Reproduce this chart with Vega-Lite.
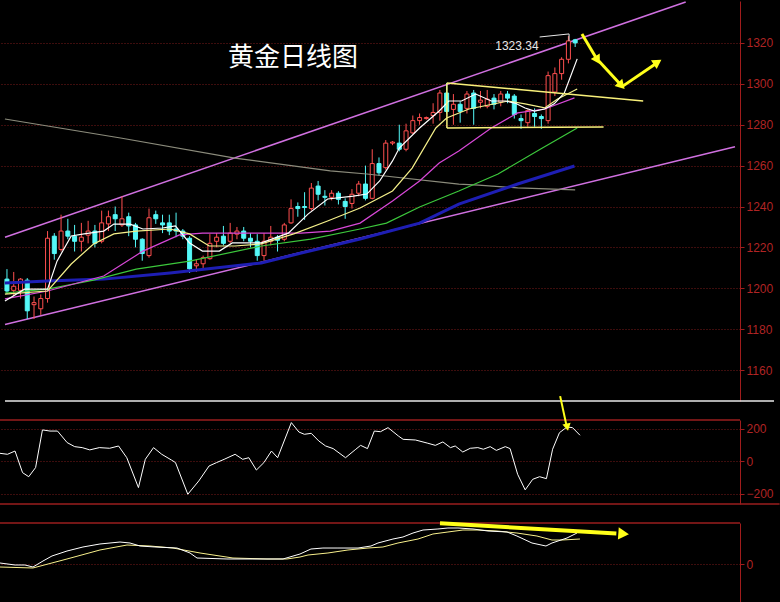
{
  "$schema": "https://vega.github.io/schema/vega-lite/v6.json",
  "background": "#000000",
  "padding": {"left": -5, "top": -10, "right": 0, "bottom": 0},
  "spacing": 19,
  "bounds": "flush",
  "resolve": {"scale": {"color": "independent"}},
  "config": {"view": {"stroke": null}, "axis": {"labelFont": "Liberation Sans"}},
  "datasets": {
    "candles": [
      {"i":0,"o":1204.5,"h":1209.4,"l":1197.2,"c":1198.7},
      {"i":1,"o":1199,"h":1208,"l":1196,"c":1201},
      {"i":2,"o":1199,"h":1205,"l":1195,"c":1204.5},
      {"i":3,"o":1204,"h":1205,"l":1185,"c":1189},
      {"i":4,"o":1192,"h":1196,"l":1185,"c":1193},
      {"i":5,"o":1190,"h":1197,"l":1187,"c":1195},
      {"i":6,"o":1195,"h":1228,"l":1193,"c":1224.5},
      {"i":7,"o":1225.5,"h":1227,"l":1214,"c":1217},
      {"i":8,"o":1219,"h":1236,"l":1218,"c":1228},
      {"i":9,"o":1228,"h":1234,"l":1224,"c":1225.5},
      {"i":10,"o":1225.5,"h":1231,"l":1218,"c":1223},
      {"i":11,"o":1223,"h":1232,"l":1218,"c":1225},
      {"i":12,"o":1226,"h":1233,"l":1222,"c":1228},
      {"i":13,"o":1228,"h":1231,"l":1220,"c":1222},
      {"i":14,"o":1223,"h":1238,"l":1222,"c":1232},
      {"i":15,"o":1231.5,"h":1238,"l":1228,"c":1235},
      {"i":16,"o":1236,"h":1240,"l":1228,"c":1234},
      {"i":17,"o":1231,"h":1245,"l":1230,"c":1234},
      {"i":18,"o":1235,"h":1237,"l":1225.5,"c":1230.5},
      {"i":19,"o":1231,"h":1232,"l":1220,"c":1224},
      {"i":20,"o":1224,"h":1224.5,"l":1213.5,"c":1217},
      {"i":21,"o":1216,"h":1239,"l":1215,"c":1234.5},
      {"i":22,"o":1236,"h":1238,"l":1231.5,"c":1234},
      {"i":23,"o":1232,"h":1236,"l":1227,"c":1231},
      {"i":24,"o":1232,"h":1236,"l":1226,"c":1228},
      {"i":25,"o":1229,"h":1237,"l":1225,"c":1228},
      {"i":26,"o":1228,"h":1229,"l":1224,"c":1225.5},
      {"i":27,"o":1224.5,"h":1225.5,"l":1207.5,"c":1209.5},
      {"i":28,"o":1211,"h":1214,"l":1208,"c":1212},
      {"i":29,"o":1212,"h":1216,"l":1209.5,"c":1215},
      {"i":30,"o":1214.5,"h":1226.5,"l":1214,"c":1222},
      {"i":31,"o":1223,"h":1227,"l":1220,"c":1225},
      {"i":32,"o":1225.5,"h":1230.5,"l":1221,"c":1222},
      {"i":33,"o":1223,"h":1232,"l":1222,"c":1227},
      {"i":34,"o":1226.5,"h":1230,"l":1224,"c":1228},
      {"i":35,"o":1228,"h":1230,"l":1223,"c":1224.5},
      {"i":36,"o":1224.5,"h":1227,"l":1220,"c":1223},
      {"i":37,"o":1223,"h":1226.5,"l":1213.5,"c":1216},
      {"i":38,"o":1216,"h":1227,"l":1213.5,"c":1223},
      {"i":39,"o":1223,"h":1230.5,"l":1221,"c":1225},
      {"i":40,"o":1225,"h":1226,"l":1218,"c":1223.5},
      {"i":41,"o":1224,"h":1232,"l":1223,"c":1231},
      {"i":42,"o":1232,"h":1243.5,"l":1231.5,"c":1239},
      {"i":43,"o":1240,"h":1242,"l":1235,"c":1239},
      {"i":44,"o":1240,"h":1247,"l":1233.5,"c":1239.5},
      {"i":45,"o":1239,"h":1251.5,"l":1238,"c":1249},
      {"i":46,"o":1250,"h":1252.5,"l":1243,"c":1246},
      {"i":47,"o":1245,"h":1248,"l":1240.5,"c":1244.5},
      {"i":48,"o":1244.5,"h":1248,"l":1243,"c":1246.5},
      {"i":49,"o":1246.5,"h":1247.5,"l":1241,"c":1243.5},
      {"i":50,"o":1242.5,"h":1244,"l":1234,"c":1240},
      {"i":51,"o":1241.5,"h":1248.5,"l":1239,"c":1246},
      {"i":52,"o":1246.5,"h":1252.5,"l":1245,"c":1251},
      {"i":53,"o":1251,"h":1260,"l":1243,"c":1244},
      {"i":54,"o":1244,"h":1268,"l":1243.5,"c":1261},
      {"i":55,"o":1261,"h":1264,"l":1255,"c":1256.5},
      {"i":56,"o":1259,"h":1272.5,"l":1258,"c":1271},
      {"i":57,"o":1271,"h":1272,"l":1270,"c":1271.5},
      {"i":58,"o":1271,"h":1280,"l":1267,"c":1268},
      {"i":59,"o":1268,"h":1280.5,"l":1267,"c":1277},
      {"i":60,"o":1276,"h":1284.5,"l":1275.5,"c":1282},
      {"i":61,"o":1282,"h":1285.5,"l":1280,"c":1283.5},
      {"i":62,"o":1283,"h":1284,"l":1282.5,"c":1283.5},
      {"i":63,"o":1284.5,"h":1290.5,"l":1280.5,"c":1286},
      {"i":64,"o":1286,"h":1297,"l":1282,"c":1295.5},
      {"i":65,"o":1295.5,"h":1300.5,"l":1285.5,"c":1286.5},
      {"i":66,"o":1287.5,"h":1295,"l":1280,"c":1290},
      {"i":67,"o":1290,"h":1291.5,"l":1281,"c":1286.5},
      {"i":68,"o":1288,"h":1296.5,"l":1285.5,"c":1295},
      {"i":69,"o":1295.5,"h":1297,"l":1280,"c":1288},
      {"i":70,"o":1291,"h":1296.5,"l":1288,"c":1292},
      {"i":71,"o":1289,"h":1297,"l":1288,"c":1292.5},
      {"i":72,"o":1293,"h":1295,"l":1287.5,"c":1290},
      {"i":73,"o":1291,"h":1296.5,"l":1289,"c":1295},
      {"i":74,"o":1295,"h":1296.5,"l":1290.5,"c":1293},
      {"i":75,"o":1294,"h":1295,"l":1283,"c":1285},
      {"i":76,"o":1283,"h":1285,"l":1278,"c":1282},
      {"i":77,"o":1281,"h":1287.5,"l":1279,"c":1287},
      {"i":78,"o":1285.5,"h":1288,"l":1279,"c":1284},
      {"i":79,"o":1284,"h":1285,"l":1278,"c":1283},
      {"i":80,"o":1282,"h":1306,"l":1280.5,"c":1304},
      {"i":81,"o":1296,"h":1308,"l":1294,"c":1305},
      {"i":82,"o":1305,"h":1313,"l":1302,"c":1312},
      {"i":83,"o":1312,"h":1323.34,"l":1310,"c":1321},
      {"i":84,"o":1321.5,"h":1322,"l":1318,"c":1320}
    ],
    "ma": [
      {"s":"ma250","i":-0.3,"p":1282.8},{"s":"ma250","i":16.8,"p":1273.5},{"s":"ma250","i":33.7,"p":1263.7},{"s":"ma250","i":47.8,"p":1257.4},{"s":"ma250","i":53.2,"p":1255.9},{"s":"ma250","i":66.8,"p":1251.0},{"s":"ma250","i":69.7,"p":1250.5},{"s":"ma250","i":75.5,"p":1249.1},{"s":"ma250","i":84.0,"p":1248.1},
      {"s":"ma120","i":-0.3,"p":1202.6},{"s":"ma120","i":6.0,"p":1203.6},{"s":"ma120","i":14.3,"p":1204.5},{"s":"ma120","i":24.1,"p":1207.5},{"s":"ma120","i":37.6,"p":1212.4},{"s":"ma120","i":43.5,"p":1217.3},{"s":"ma120","i":52.2,"p":1224.1},{"s":"ma120","i":61.0,"p":1231.9},{"s":"ma120","i":66.8,"p":1241.2},{"s":"ma120","i":75.5,"p":1251.0},{"s":"ma120","i":83.9,"p":1259.8},
      {"s":"ma60","i":-0.3,"p":1197.7},{"s":"ma60","i":6.0,"p":1199.6},{"s":"ma60","i":12.8,"p":1204.0},{"s":"ma60","i":19.1,"p":1209.4},{"s":"ma60","i":27.0,"p":1213.3},{"s":"ma60","i":37.6,"p":1220.7},{"s":"ma60","i":44.9,"p":1224.1},{"s":"ma60","i":52.2,"p":1229.0},{"s":"ma60","i":56.1,"p":1231.9},{"s":"ma60","i":61.0,"p":1239.8},{"s":"ma60","i":66.8,"p":1247.6},{"s":"ma60","i":72.6,"p":1255.9},{"s":"ma60","i":78.9,"p":1268.1},{"s":"ma60","i":84.3,"p":1278.4},
      {"s":"ma20","i":-0.3,"p":1194.8},{"s":"ma20","i":6.0,"p":1198.7},{"s":"ma20","i":14.3,"p":1206.0},{"s":"ma20","i":20.1,"p":1218.2},{"s":"ma20","i":25.5,"p":1226.1},{"s":"ma20","i":28.9,"p":1227.0},{"s":"ma20","i":37.6,"p":1227.0},{"s":"ma20","i":43.5,"p":1227.0},{"s":"ma20","i":47.8,"p":1228.0},{"s":"ma20","i":52.2,"p":1231.9},{"s":"ma20","i":57.0,"p":1242.7},{"s":"ma20","i":61.0,"p":1252.5},{"s":"ma20","i":63.9,"p":1261.3},{"s":"ma20","i":66.8,"p":1267.2},{"s":"ma20","i":71.6,"p":1278.4},{"s":"ma20","i":75.5,"p":1285.8},{"s":"ma20","i":79.5,"p":1287.7},{"s":"ma20","i":83.9,"p":1293.1},
      {"s":"ma10","i":-0.3,"p":1197.2},{"s":"ma10","i":6.0,"p":1198.7},{"s":"ma10","i":9.5,"p":1211.9},{"s":"ma10","i":12.8,"p":1221.7},{"s":"ma10","i":15.8,"p":1226.6},{"s":"ma10","i":19.1,"p":1228.0},{"s":"ma10","i":24.1,"p":1229.0},{"s":"ma10","i":27.0,"p":1226.6},{"s":"ma10","i":29.9,"p":1220.7},{"s":"ma10","i":33.7,"p":1220.7},{"s":"ma10","i":37.6,"p":1221.7},{"s":"ma10","i":42.4,"p":1226.6},{"s":"ma10","i":47.4,"p":1232.9},{"s":"ma10","i":52.2,"p":1239.3},{"s":"ma10","i":57.0,"p":1247.6},{"s":"ma10","i":59.9,"p":1258.8},{"s":"ma10","i":63.4,"p":1278.4},{"s":"ma10","i":65.0,"p":1283.3},{"s":"ma10","i":68.3,"p":1287.7},{"s":"ma10","i":74.1,"p":1291.6},{"s":"ma10","i":76.6,"p":1290.2},{"s":"ma10","i":79.5,"p":1288.2},{"s":"ma10","i":81.4,"p":1292.6},{"s":"ma10","i":84.3,"p":1297.5},
      {"s":"ma5","i":-0.3,"p":1193.8},{"s":"ma5","i":2.6,"p":1199.6},{"s":"ma5","i":6.0,"p":1199.6},{"s":"ma5","i":7.4,"p":1213.3},{"s":"ma5","i":9.5,"p":1225.6},{"s":"ma5","i":11.4,"p":1226.6},{"s":"ma5","i":14.3,"p":1228.0},{"s":"ma5","i":15.8,"p":1231.4},{"s":"ma5","i":18.2,"p":1231.4},{"s":"ma5","i":20.1,"p":1229.0},{"s":"ma5","i":23.0,"p":1229.5},{"s":"ma5","i":24.9,"p":1230.5},{"s":"ma5","i":27.0,"p":1222.2},{"s":"ma5","i":28.9,"p":1218.2},{"s":"ma5","i":31.4,"p":1218.2},{"s":"ma5","i":33.3,"p":1222.2},{"s":"ma5","i":37.6,"p":1222.2},{"s":"ma5","i":41.6,"p":1227.0},{"s":"ma5","i":44.5,"p":1236.3},{"s":"ma5","i":47.4,"p":1243.7},{"s":"ma5","i":51.2,"p":1245.1},{"s":"ma5","i":53.2,"p":1246.1},{"s":"ma5","i":55.1,"p":1252.5},{"s":"ma5","i":57.0,"p":1262.3},{"s":"ma5","i":58.0,"p":1268.6},{"s":"ma5","i":61.0,"p":1278.4},{"s":"ma5","i":63.9,"p":1286.7},{"s":"ma5","i":65.3,"p":1291.6},{"s":"ma5","i":67.2,"p":1291.6},{"s":"ma5","i":69.3,"p":1295.0},{"s":"ma5","i":71.6,"p":1291.6},{"s":"ma5","i":73.7,"p":1291.6},{"s":"ma5","i":75.1,"p":1290.6},{"s":"ma5","i":76.6,"p":1288.2},{"s":"ma5","i":78.0,"p":1286.7},{"s":"ma5","i":79.5,"p":1287.7},{"s":"ma5","i":80.9,"p":1290.2},{"s":"ma5","i":82.4,"p":1295.5},{"s":"ma5","i":84.3,"p":1312.2}
    ],
    "cci": [
      {"i":-0.3,"v":49},{"i":0.8,"v":43},{"i":1.9,"v":63},{"i":3.0,"v":-70},{"i":3.9,"v":-95},{"i":4.9,"v":-39},{"i":5.9,"v":193},{"i":7.0,"v":186},{"i":8.1,"v":186},{"i":9.5,"v":115},{"i":10.6,"v":90},{"i":11.7,"v":84},{"i":12.8,"v":70},{"i":14.2,"v":84},{"i":15.7,"v":80},{"i":17.0,"v":94},{"i":18.2,"v":22},{"i":19.9,"v":-162},{"i":20.9,"v":12},{"i":22.1,"v":84},{"i":23.3,"v":43},{"i":24.7,"v":8},{"i":25.3,"v":-8},{"i":27.1,"v":-203},{"i":28.7,"v":-121},{"i":30.2,"v":-29},{"i":31.3,"v":-8},{"i":32.4,"v":12},{"i":34.0,"v":43},{"i":35.1,"v":12},{"i":36.0,"v":22},{"i":37.1,"v":-54},{"i":38.2,"v":-8},{"i":39.3,"v":63},{"i":40.2,"v":22},{"i":42.2,"v":238},{"i":43.3,"v":180},{"i":44.1,"v":166},{"i":45.1,"v":172},{"i":46.2,"v":125},{"i":47.2,"v":94},{"i":48.3,"v":78},{"i":50.1,"v":22},{"i":51.6,"v":74},{"i":52.3,"v":98},{"i":53.3,"v":78},{"i":54.3,"v":186},{"i":55.2,"v":182},{"i":56.3,"v":207},{"i":57.8,"v":156},{"i":58.5,"v":135},{"i":60.3,"v":131},{"i":62.1,"v":111},{"i":63.2,"v":98},{"i":64.3,"v":119},{"i":65.4,"v":84},{"i":66.1,"v":94},{"i":67.2,"v":57},{"i":68.3,"v":80},{"i":69.4,"v":84},{"i":70.2,"v":74},{"i":71.2,"v":90},{"i":72.1,"v":67},{"i":73.4,"v":90},{"i":74.1,"v":78},{"i":75.2,"v":-80},{"i":76.3,"v":-176},{"i":77.4,"v":-111},{"i":78.4,"v":-95},{"i":79.4,"v":-107},{"i":80.3,"v":74},{"i":81.3,"v":176},{"i":82.4,"v":211},{"i":83.2,"v":207},{"i":84.3,"v":160}
    ],
    "macd": [
      {"s":"dea","i":-0.29,"v":-1.0},{"s":"dea","i":4.52,"v":-1.33},{"s":"dea","i":9.48,"v":1.67},{"s":"dea","i":14.29,"v":4.67},{"s":"dea","i":18.23,"v":6.33},{"s":"dea","i":21.58,"v":6.0},{"s":"dea","i":24.94,"v":5.33},{"s":"dea","i":28.88,"v":3.67},{"s":"dea","i":33.69,"v":2.0},{"s":"dea","i":38.65,"v":1.67},{"s":"dea","i":41.56,"v":1.67},{"s":"dea","i":43.46,"v":2.33},{"s":"dea","i":44.63,"v":3.0},{"s":"dea","i":47.54,"v":3.67},{"s":"dea","i":50.46,"v":4.67},{"s":"dea","i":53.38,"v":5.33},{"s":"dea","i":55.56,"v":5.67},{"s":"dea","i":57.75,"v":7.0},{"s":"dea","i":60.67,"v":8.33},{"s":"dea","i":62.85,"v":10.0},{"s":"dea","i":65.04,"v":10.67},{"s":"dea","i":67.23,"v":11.33},{"s":"dea","i":69.42,"v":11.33},{"s":"dea","i":72.19,"v":11.0},{"s":"dea","i":75.1,"v":10.33},{"s":"dea","i":78.02,"v":9.33},{"s":"dea","i":80.21,"v":8.0},{"s":"dea","i":81.67,"v":8.0},{"s":"dea","i":84.29,"v":8.33},
      {"s":"dif","i":-0.29,"v":0.33},{"s":"dif","i":1.9,"v":-0.33},{"s":"dif","i":3.35,"v":-0.33},{"s":"dif","i":4.52,"v":-1.0},{"s":"dif","i":5.98,"v":1.0},{"s":"dif","i":7.29,"v":2.67},{"s":"dif","i":9.48,"v":4.33},{"s":"dif","i":11.81,"v":5.67},{"s":"dif","i":14.29,"v":6.67},{"s":"dif","i":17.21,"v":7.33},{"s":"dif","i":18.67,"v":7.0},{"s":"dif","i":20.13,"v":6.0},{"s":"dif","i":22.31,"v":5.67},{"s":"dif","i":25.52,"v":5.33},{"s":"dif","i":27.42,"v":3.67},{"s":"dif","i":28.44,"v":2.0},{"s":"dif","i":32.81,"v":1.67},{"s":"dif","i":36.6,"v":1.67},{"s":"dif","i":40.98,"v":1.67},{"s":"dif","i":43.46,"v":3.33},{"s":"dif","i":45.06,"v":5.0},{"s":"dif","i":46.81,"v":5.33},{"s":"dif","i":49.0,"v":5.33},{"s":"dif","i":51.92,"v":5.33},{"s":"dif","i":53.81,"v":6.0},{"s":"dif","i":54.83,"v":7.0},{"s":"dif","i":57.02,"v":8.33},{"s":"dif","i":58.48,"v":9.0},{"s":"dif","i":59.94,"v":10.33},{"s":"dif","i":61.4,"v":11.33},{"s":"dif","i":63.58,"v":11.67},{"s":"dif","i":65.04,"v":12.0},{"s":"dif","i":66.5,"v":12.0},{"s":"dif","i":68.69,"v":11.67},{"s":"dif","i":70.88,"v":11.0},{"s":"dif","i":73.65,"v":10.67},{"s":"dif","i":75.1,"v":9.33},{"s":"dif","i":77.29,"v":7.0},{"s":"dif","i":79.33,"v":6.0},{"s":"dif","i":80.21,"v":7.0},{"s":"dif","i":82.4,"v":8.67},{"s":"dif","i":83.86,"v":10.33}
    ]
  },
  "vconcat": [
    {
      "width": 740,
      "height": 400,
      "layer": [
        {
          "data": {"values": [{"id":"up","i":-0.29,"p":1225.0},{"id":"up","i":100.34,"p":1340.0},{"id":"lo","i":-0.29,"p":1182.3},{"id":"lo","i":107.63,"p":1269.2}]},
          "mark": {"type": "line", "color": "#d070e0", "strokeWidth": 1.5, "clip": true},
          "encoding": {
            "x": {"field": "i", "type": "quantitative", "scale": {"domain": [-0.29, 107.63], "nice": false, "zero": false}, "axis": null},
            "y": {"field": "p", "type": "quantitative", "scale": {"domain": [1144.9, 1340.5], "nice": false, "zero": false},
              "axis": {"orient": "right", "values": [1160,1180,1200,1220,1240,1260,1280,1300,1320], "title": null, "format": "d", "grid": true, "gridColor": "#7a1a1a", "gridDash": [1,2], "gridWidth": 1, "domainColor": "#a01c1c", "tickColor": "#a01c1c", "tickSize": 4, "labelColor": "#b02424", "labelFontSize": 12, "labelPadding": 2}},
            "detail": {"field": "id"}
          }
        },
        {
          "data": {"values": [{"i0":-1.748,"i1":-0.5,"p0":1345.4,"p1":1341.5}]},
          "mark": {"type": "rect", "fill": "#000000", "clip": false},
          "encoding": {
            "x": {"field": "i0", "type": "quantitative", "scale": {"domain": [-0.29, 107.63], "nice": false, "zero": false}},
            "x2": {"field": "i1"},
            "y": {"field": "p0", "type": "quantitative", "scale": {"domain": [1144.9, 1340.5], "nice": false, "zero": false}, "title": null},
            "y2": {"field": "p1"}
          }
        },
        {
          "data": {"name": "candles"},
          "mark": {"type": "rule", "strokeWidth": 1, "clip": true},
          "encoding": {
            "x": {"field": "i", "type": "quantitative", "scale": {"domain": [-0.29, 107.63], "nice": false, "zero": false}},
            "y": {"field": "l", "type": "quantitative", "scale": {"domain": [1144.9, 1340.5], "nice": false, "zero": false}, "title": null},
            "y2": {"field": "h"},
            "color": {"condition": {"test": "datum.c >= datum.o", "value": "#ff4f4f"}, "value": "#54f8f8"}
          }
        },
        {
          "data": {"name": "candles"},
          "transform": [{"filter": "datum.c >= datum.o"}],
          "mark": {"type": "bar", "fill": "#000000", "stroke": "#ff4f4f", "strokeWidth": 1, "size": 4, "clip": true},
          "encoding": {
            "x": {"field": "i", "type": "quantitative", "scale": {"domain": [-0.29, 107.63], "nice": false, "zero": false}},
            "y": {"field": "o", "type": "quantitative", "scale": {"domain": [1144.9, 1340.5], "nice": false, "zero": false}, "title": null},
            "y2": {"field": "c"}
          }
        },
        {
          "data": {"name": "candles"},
          "transform": [{"filter": "datum.c < datum.o"}],
          "mark": {"type": "bar", "fill": "#54f8f8", "stroke": "#54f8f8", "strokeWidth": 1, "size": 4, "clip": true},
          "encoding": {
            "x": {"field": "i", "type": "quantitative", "scale": {"domain": [-0.29, 107.63], "nice": false, "zero": false}},
            "y": {"field": "o", "type": "quantitative", "scale": {"domain": [1144.9, 1340.5], "nice": false, "zero": false}, "title": null},
            "y2": {"field": "c"}
          }
        },
        {
          "data": {"name": "ma"},
          "mark": {"type": "line", "clip": true},
          "encoding": {
            "x": {"field": "i", "type": "quantitative", "scale": {"domain": [-0.29, 107.63], "nice": false, "zero": false}},
            "y": {"field": "p", "type": "quantitative", "scale": {"domain": [1144.9, 1340.5], "nice": false, "zero": false}, "title": null},
            "color": {"field": "s", "type": "nominal", "legend": null, "scale": {"domain": ["ma250","ma120","ma60","ma20","ma10","ma5"], "range": ["#8c8c7c","#1e1eb4","#3cc83c","#d848d8","#f5f08a","#ffffff"]}},
            "strokeWidth": {"condition": {"test": "datum.s === 'ma120'", "value": 3}, "value": 1.2},
            "order": {"field": "i", "type": "quantitative"}
          }
        },
        {
          "data": {"values": [
            {"id":"up","i":65.04,"p":1300.4},{"id":"up","i":94.06,"p":1291.6},
            {"id":"vert","i":65.04,"p":1300.4},{"id":"vert","i":65.04,"p":1278.4},
            {"id":"lo","i":65.04,"p":1278.4},{"id":"lo","i":88.2,"p":1278.9}
          ]},
          "mark": {"type": "line", "color": "#f8f07a", "strokeWidth": 1.5},
          "encoding": {
            "x": {"field": "i", "type": "quantitative", "scale": {"domain": [-0.29, 107.63], "nice": false, "zero": false}},
            "y": {"field": "p", "type": "quantitative", "scale": {"domain": [1144.9, 1340.5], "nice": false, "zero": false}, "title": null},
            "detail": {"field": "id"}
          }
        },
        {
          "data": {"values": [
            {"id":"a","i":78.75,"p":1322.9},{"id":"a","i":83.1,"p":1324.4},
            {"id":"b","i":83.1,"p":1324.4},{"id":"b","i":83.1,"p":1321.0}
          ]},
          "mark": {"type": "line", "color": "#e8e8e8", "strokeWidth": 1},
          "encoding": {
            "x": {"field": "i", "type": "quantitative", "scale": {"domain": [-0.29, 107.63], "nice": false, "zero": false}},
            "y": {"field": "p", "type": "quantitative", "scale": {"domain": [1144.9, 1340.5], "nice": false, "zero": false}, "title": null},
            "detail": {"field": "id"}
          }
        },
        {
          "data": {"values": [
            {"id":"A","i":85.0,"p":1324.4},{"id":"A","i":87.0,"p":1313.2},
            {"id":"B","i":87.5,"p":1311.2},{"id":"B","i":90.6,"p":1300.0},
            {"id":"C","i":91.1,"p":1299.0},{"id":"C","i":95.8,"p":1309.6}
          ]},
          "mark": {"type": "line", "color": "#ffff1a", "strokeWidth": 3},
          "encoding": {
            "x": {"field": "i", "type": "quantitative", "scale": {"domain": [-0.29, 107.63], "nice": false, "zero": false}},
            "y": {"field": "p", "type": "quantitative", "scale": {"domain": [1144.9, 1340.5], "nice": false, "zero": false}, "title": null},
            "detail": {"field": "id"}
          }
        },
        {
          "data": {"values": [{"i":87.2,"p":1312.2}]},
          "mark": {"type": "point", "shape": "triangle", "filled": true, "color": "#ffff1a", "size": 110, "angle": 149, "opacity": 1},
          "encoding": {
            "x": {"field": "i", "type": "quantitative", "scale": {"domain": [-0.29, 107.63], "nice": false, "zero": false}},
            "y": {"field": "p", "type": "quantitative", "scale": {"domain": [1144.9, 1340.5], "nice": false, "zero": false}, "title": null}
          }
        },
        {
          "data": {"values": [{"i":90.7,"p":1299.6}]},
          "mark": {"type": "point", "shape": "triangle", "filled": true, "color": "#ffff1a", "size": 110, "angle": 137, "opacity": 1},
          "encoding": {
            "x": {"field": "i", "type": "quantitative", "scale": {"domain": [-0.29, 107.63], "nice": false, "zero": false}},
            "y": {"field": "p", "type": "quantitative", "scale": {"domain": [1144.9, 1340.5], "nice": false, "zero": false}, "title": null}
          }
        },
        {
          "data": {"values": [{"i":96.0,"p":1310.2}]},
          "mark": {"type": "point", "shape": "triangle", "filled": true, "color": "#ffff1a", "size": 110, "angle": 57, "opacity": 1},
          "encoding": {
            "x": {"field": "i", "type": "quantitative", "scale": {"domain": [-0.29, 107.63], "nice": false, "zero": false}},
            "y": {"field": "p", "type": "quantitative", "scale": {"domain": [1144.9, 1340.5], "nice": false, "zero": false}, "title": null}
          }
        },
        {
          "data": {"values": [{"i":78.6,"p":1318.5,"t":"1323.34"}]},
          "mark": {"type": "text", "align": "right", "baseline": "middle", "color": "#e8e8e8", "font": "Liberation Sans", "fontSize": 12},
          "encoding": {
            "x": {"field": "i", "type": "quantitative", "scale": {"domain": [-0.29, 107.63], "nice": false, "zero": false}},
            "y": {"field": "p", "type": "quantitative", "scale": {"domain": [1144.9, 1340.5], "nice": false, "zero": false}, "title": null},
            "text": {"field": "t"}
          }
        },
        {
          "data": {"values": [{"i":42.3,"p":1312.7,"t":"黄金日线图"}]},
          "mark": {"type": "text", "align": "center", "baseline": "middle", "color": "#ffffff", "font": "Noto Sans CJK SC", "fontSize": 26},
          "encoding": {
            "x": {"field": "i", "type": "quantitative", "scale": {"domain": [-0.29, 107.63], "nice": false, "zero": false}},
            "y": {"field": "p", "type": "quantitative", "scale": {"domain": [1144.9, 1340.5], "nice": false, "zero": false}, "title": null},
            "text": {"field": "t"}
          }
        },
        {
          "data": {"values": [{"i0":-0.29,"i1":113.4,"p":1144.9}]},
          "mark": {"type": "rule", "color": "#e8e8e8", "strokeWidth": 1.5, "clip": false},
          "encoding": {
            "x": {"field": "i0", "type": "quantitative", "scale": {"domain": [-0.29, 107.63], "nice": false, "zero": false}},
            "x2": {"field": "i1"},
            "y": {"field": "p", "type": "quantitative", "scale": {"domain": [1144.9, 1340.5], "nice": false, "zero": false}, "title": null}
          }
        }
      ]
    },
    {
      "width": 740,
      "height": 84,
      "layer": [
        {
          "data": {"name": "cci"},
          "mark": {"type": "line", "color": "#ffffff", "strokeWidth": 1, "clip": true},
          "encoding": {
            "x": {"field": "i", "type": "quantitative", "scale": {"domain": [-0.29, 107.63], "nice": false, "zero": false}, "axis": null},
            "y": {"field": "v", "type": "quantitative", "scale": {"domain": [-263, 254], "nice": false, "zero": false},
              "axis": {"orient": "right", "values": [-200, 0, 200], "title": null, "format": "d", "grid": true, "gridColor": "#7a1a1a", "gridDash": [1,2], "gridWidth": 1, "domainColor": "#a01c1c", "tickColor": "#a01c1c", "tickSize": 4, "labelColor": "#b02424", "labelFontSize": 12, "labelPadding": 2}}
          }
        },
        {
          "data": {"values": [{"i0":-0.29,"i1":107.63,"v":254},{"i0":-0.29,"i1":113.4,"v":-263}]},
          "mark": {"type": "rule", "color": "#9a1e1e", "strokeWidth": 1.5, "clip": false},
          "encoding": {
            "x": {"field": "i0", "type": "quantitative", "scale": {"domain": [-0.29, 107.63], "nice": false, "zero": false}},
            "x2": {"field": "i1"},
            "y": {"field": "v", "type": "quantitative", "scale": {"domain": [-263, 254], "nice": false, "zero": false}, "title": null}
          }
        },
        {
          "data": {"values": [{"i":81.4,"v":401},{"i":82.3,"v":225}]},
          "mark": {"type": "line", "color": "#ffff1a", "strokeWidth": 2, "clip": false},
          "encoding": {
            "x": {"field": "i", "type": "quantitative", "scale": {"domain": [-0.29, 107.63], "nice": false, "zero": false}},
            "y": {"field": "v", "type": "quantitative", "scale": {"domain": [-263, 254], "nice": false, "zero": false}, "title": null}
          }
        },
        {
          "data": {"values": [{"i":82.4,"v":217}]},
          "mark": {"type": "point", "shape": "triangle", "filled": true, "color": "#ffff1a", "size": 70, "angle": 168, "opacity": 1, "clip": false},
          "encoding": {
            "x": {"field": "i", "type": "quantitative", "scale": {"domain": [-0.29, 107.63], "nice": false, "zero": false}},
            "y": {"field": "v", "type": "quantitative", "scale": {"domain": [-263, 254], "nice": false, "zero": false}, "title": null}
          }
        }
      ]
    },
    {
      "width": 740,
      "height": 80,
      "layer": [
        {
          "data": {"name": "macd"},
          "mark": {"type": "line", "strokeWidth": 1, "clip": true},
          "encoding": {
            "x": {"field": "i", "type": "quantitative", "scale": {"domain": [-0.29, 107.63], "nice": false, "zero": false}, "axis": null},
            "y": {"field": "v", "type": "quantitative", "scale": {"domain": [-13.0, 13.67], "nice": false, "zero": false},
              "axis": {"orient": "right", "values": [0], "title": null, "format": "d", "grid": true, "gridColor": "#7a1a1a", "gridDash": [1,2], "gridWidth": 1, "domainColor": "#a01c1c", "tickColor": "#a01c1c", "tickSize": 4, "labelColor": "#b02424", "labelFontSize": 12, "labelPadding": 2}},
            "color": {"field": "s", "type": "nominal", "legend": null, "scale": {"domain": ["dea", "dif"], "range": ["#f8f08c", "#ffffff"]}},
            "order": {"field": "i", "type": "quantitative"}
          }
        },
        {
          "data": {"values": [{"i0":-0.29,"i1":107.63,"v":13.67}]},
          "mark": {"type": "rule", "color": "#9a1e1e", "strokeWidth": 1.5, "clip": false},
          "encoding": {
            "x": {"field": "i0", "type": "quantitative", "scale": {"domain": [-0.29, 107.63], "nice": false, "zero": false}},
            "x2": {"field": "i1"},
            "y": {"field": "v", "type": "quantitative", "scale": {"domain": [-13.0, 13.67], "nice": false, "zero": false}, "title": null}
          }
        },
        {
          "data": {"values": [{"i":63.88,"v":13.6},{"i":89.6,"v":10.2}]},
          "mark": {"type": "line", "color": "#ffff1a", "strokeWidth": 4, "clip": false},
          "encoding": {
            "x": {"field": "i", "type": "quantitative", "scale": {"domain": [-0.29, 107.63], "nice": false, "zero": false}},
            "y": {"field": "v", "type": "quantitative", "scale": {"domain": [-13.0, 13.67], "nice": false, "zero": false}, "title": null}
          }
        },
        {
          "data": {"values": [{"i":90.4,"v":10.1}]},
          "mark": {"type": "point", "shape": "triangle", "filled": true, "color": "#ffff1a", "size": 150, "angle": 94, "opacity": 1},
          "encoding": {
            "x": {"field": "i", "type": "quantitative", "scale": {"domain": [-0.29, 107.63], "nice": false, "zero": false}},
            "y": {"field": "v", "type": "quantitative", "scale": {"domain": [-13.0, 13.67], "nice": false, "zero": false}, "title": null}
          }
        }
      ]
    }
  ]
}
